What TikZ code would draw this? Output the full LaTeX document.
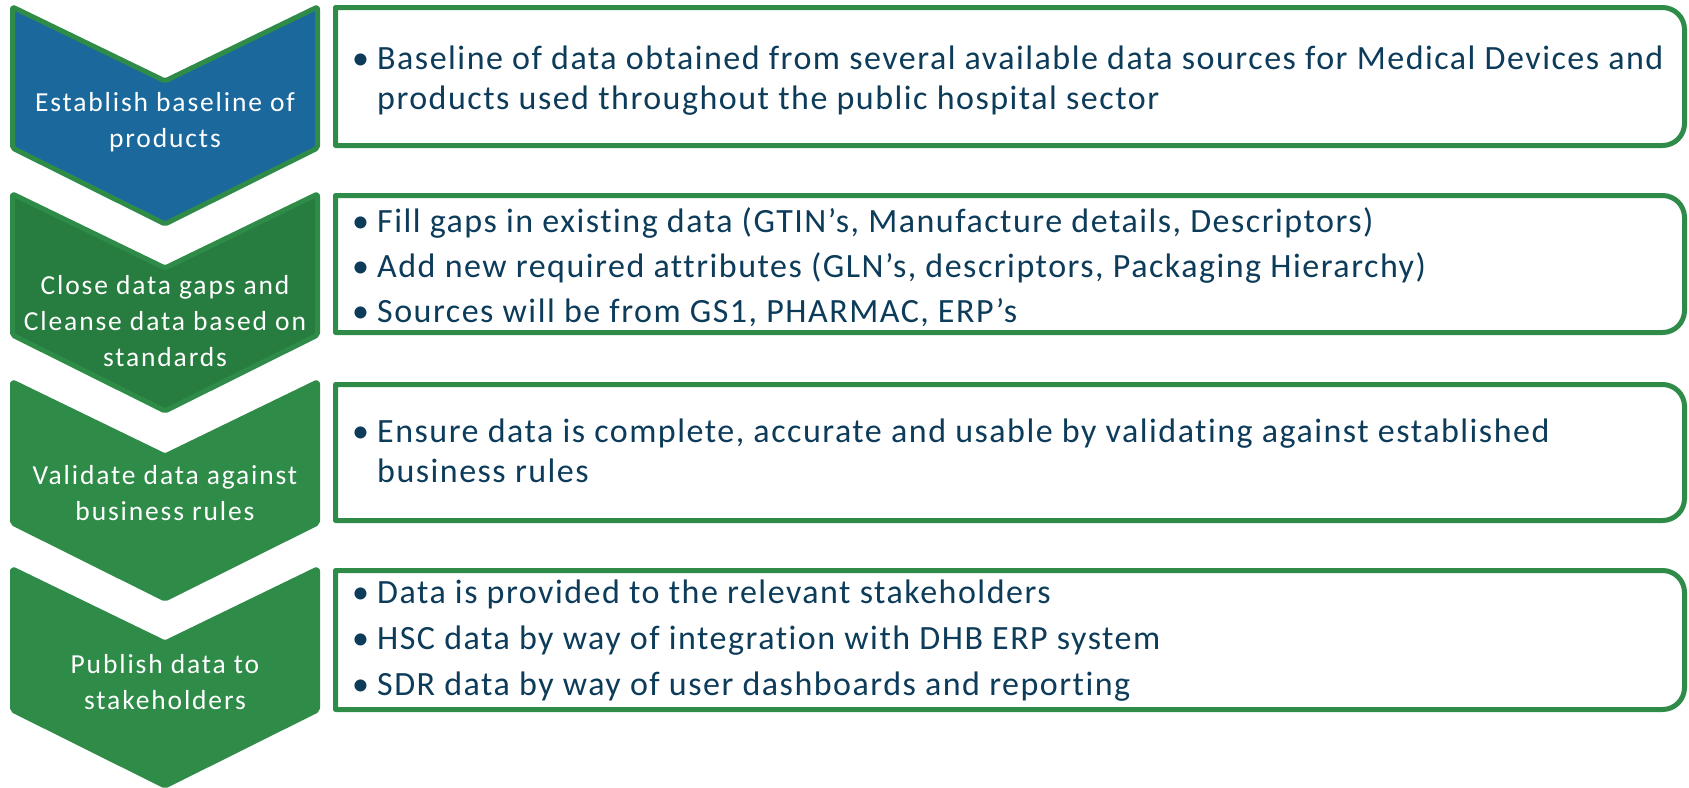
\documentclass[tikz,border=0pt]{standalone}
\usepackage{fontspec}
\setmainfont[Ligatures=NoCommon]{Carlito}
\newfontfamily\boxfont[Ligatures=NoCommon, LetterSpace=4.4]{Carlito}
\newfontfamily\stepfont[Ligatures=NoCommon, LetterSpace=6.8]{Carlito}

\definecolor{stepgreen}{HTML}{2E8B48}
\definecolor{stepblue}{HTML}{1B689D}
\definecolor{stepdark}{HTML}{277D3F}
\definecolor{bodytext}{HTML}{0D3C5B}

\tikzset{
    chevline/.style={draw=stepgreen, line width=5pt, rounded corners=2pt, line join=round},
    boxline/.style={draw=stepgreen, line width=5pt, fill=white, line join=round},
    steplabel/.style={text=white, align=center, inner sep=0pt, font=\stepfont\fontsize{27.5}{36}\selectfont},
    boxlabel/.style={text=bodytext, align=left, anchor=west, inner sep=0pt, font=\boxfont\fontsize{34}{40}\selectfont},
}
\newcommand{\bul}{\makebox[25pt][l]{\textbullet}}
\newcommand{\cont}{\hspace*{25pt}}

\begin{document}
\begin{tikzpicture}[x=1pt, y=1pt, yscale=-1]
    \useasboundingbox (0,0) rectangle (1689,787);

    % chevrons
    \draw[chevline, fill=stepblue]  (12.5,7) -- (165,81) -- (317.5,7) -- (317.5,148) -- (165,224) -- (12.5,148) -- cycle;
    \draw[chevline, fill=stepdark]  (12.5,194) -- (165,268) -- (317.5,194) -- (317.5,335) -- (165,411) -- (12.5,335) -- cycle;
    \draw[chevline, fill=stepgreen] (12.5,382) -- (165,456) -- (317.5,382) -- (317.5,523) -- (165,599) -- (12.5,523) -- cycle;
    \draw[chevline, fill=stepgreen] (12.5,569) -- (165,643) -- (317.5,569) -- (317.5,710) -- (165,786) -- (12.5,710) -- cycle;

    \node[steplabel] (est) at (165,122) {Establish baseline of\\products};
    \node[steplabel] (cls) at (165,321) {Close data gaps and\\Cleanse data based on\\standards};
    \node[steplabel] (val) at (165,493) {Validate data against\\business rules};
    \node[steplabel] (pub) at (165,682) {Publish data to\\stakeholders};

    % boxes, square on the left, rounded on the right
    \draw[boxline] (335.5,7.5) -- (1662.5,7.5) arc[start angle=-90, end angle=0, radius=22]
        -- (1684.5,123.5) arc[start angle=0, end angle=90, radius=22] -- (335.5,145.5) -- cycle;
    \draw[boxline] (335.5,195.5) -- (1662.5,195.5) arc[start angle=-90, end angle=0, radius=22]
        -- (1684.5,310.5) arc[start angle=0, end angle=90, radius=22] -- (335.5,332.5) -- cycle;
    \draw[boxline] (335.5,384.5) -- (1662.5,384.5) arc[start angle=-90, end angle=0, radius=22]
        -- (1684.5,498.5) arc[start angle=0, end angle=90, radius=22] -- (335.5,520.5) -- cycle;
    \draw[boxline] (335.5,570.5) -- (1662.5,570.5) arc[start angle=-90, end angle=0, radius=22]
        -- (1684.5,687.5) arc[start angle=0, end angle=90, radius=22] -- (335.5,709.5) -- cycle;

    \node[boxlabel] (base) at (352,81) {\bul Baseline of data obtained from several available data sources for Medical Devices and\\
        \cont products used throughout the public hospital sector};
    \node[boxlabel] (gaps) at (352,267) {\bul Fill gaps in existing data (GTIN’s, Manufacture details, Descriptors)\\[5pt]
        \bul Add new required attributes (GLN’s, descriptors, Packaging Hierarchy)\\[5pt]
        \bul Sources will be from GS1, PHARMAC, ERP’s};
    \node[boxlabel] (rules) at (352,451) {\bul Ensure data is complete, accurate and usable by validating against established\\
        \cont business rules};
    \node[boxlabel] (stake) at (352,641) {\bul Data is provided to the relevant stakeholders\\[6pt]
        \bul HSC data by way of integration with DHB ERP system\\[6pt]
        \bul SDR data by way of user dashboards and reporting};
\end{tikzpicture}
\end{document}
